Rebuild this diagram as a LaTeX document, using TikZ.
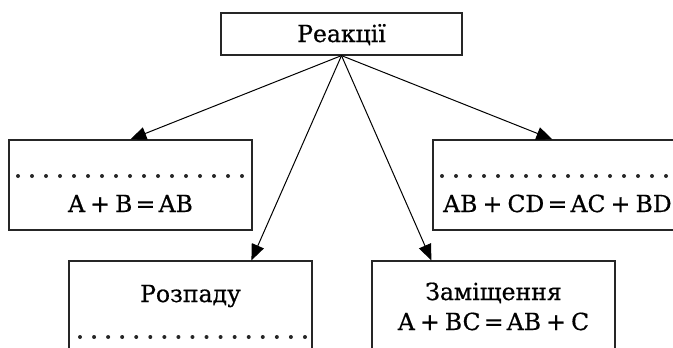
\documentclass[tikz,border=0pt]{standalone}
\usepackage{fontspec}
\setmainfont{DejaVu Serif}[FakeBold=0.6]
\usetikzlibrary{arrows.meta}
% spacing around the signs of an equation
\newcommand\pls{\hspace{0.22em}+\hspace{0.22em}}
\newcommand\eqs{\hspace{0.14em}=\hspace{0.14em}}
\begin{document}
\begin{tikzpicture}[x=1pt,y=-1pt,
  box/.style={draw=black!85, line width=1.2pt, minimum width=243pt, minimum height=90pt, inner sep=0pt},
  lbl/.style={font=\fontsize{23.5}{26}\selectfont, inner sep=0pt, anchor=base},
  link/.style={line width=1pt, -{Triangle[length=16pt,width=13pt]}},
  dot/.style={fill=black!85}]
\useasboundingbox (0,0) rectangle (673,348);
\clip (0,0) rectangle (673,348);

% boxes
\node[box, minimum width=241pt, minimum height=42pt] (top) at (341.5,34) {};
\node[box] (comb) at (130.5,185) {};
\node[box] (exch) at (554.5,185) {};
\node[box] (dec)  at (190.5,306) {};
\node[box] (subs) at (493.5,306) {};

% labels
\node[lbl] (ttop) at (341.5,42) {Реакції};
\node[lbl] (tcomb) at (130.5,212) {A\pls B\eqs AB};
\node[lbl, anchor=base west] (texch) at (443,212) {AB\pls CD\eqs AC\pls BD};
\node[lbl] (tdec) at (190.5,302) {Розпаду};
\node[lbl] (tsubs) at (493.5,300) {Заміщення};
\node[lbl] (tsubseq) at (493.5,330) {A\pls BC\eqs AB\pls C};

% dotted blanks
\foreach \i in {0,...,16} {
  \fill[dot] (18+14*\i,176) circle (2pt);
  \fill[dot] (442+14*\i,176) circle (2pt);
  \fill[dot] (80+14.06*\i,337) circle (2pt);
}

% connectors
\draw[link] (top.south) -- ([xshift=122pt]comb.north west);
\draw[link] (top.south) -- ([xshift=120pt]exch.north west);
\draw[link] (top.south) -- ([xshift=183pt]dec.north west);
\draw[link] (top.south) -- ([xshift=60pt]subs.north west);
\end{tikzpicture}
\end{document}
